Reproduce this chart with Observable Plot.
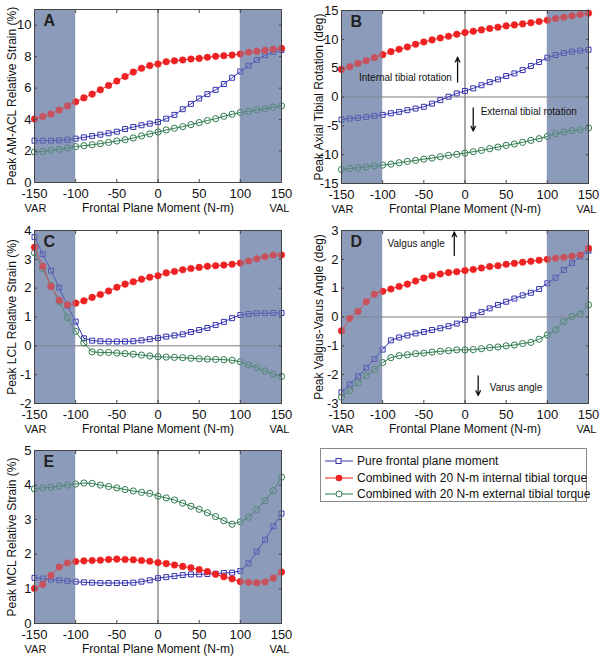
<!DOCTYPE html>
<html>
<head>
<meta charset="utf-8">
<script src="https://cdn.jsdelivr.net/npm/d3@7"></script>
<script src="https://cdn.jsdelivr.net/npm/@observablehq/plot@0.6"></script>
<style>
  html, body { margin: 0; padding: 0; background: #fff; }
  #wrap { position: relative; width: 603px; height: 664px; overflow: hidden; font-family: "Liberation Sans", Arial, sans-serif; }
  #wrap > .panel { position: absolute; }
  #legend { position: absolute; left: 320px; top: 448px; width: 267px; height: 54px; border: 1px solid #8a8a8a; box-sizing: border-box; background: #fff; }
  #legend .row { position: absolute; left: 0; height: 16px; display: flex; align-items: center; font-size: 12px; color: #111; white-space: nowrap; }
  #legend svg { margin-left: 4px; margin-right: 4px; }
</style>
</head>
<body>
<div id="wrap"></div>
<script>
// ---- data ----
const moment = [-150,-140,-130,-120,-110,-100,-90,-80,-70,-60,-50,-40,-30,-20,-10,0,10,20,30,40,50,60,70,80,90,100,110,120,130,140,150];
const xTicks = [-150,-100,-50,0,50,100,150];
const shade = [{x1: -150, x2: -100}, {x1: 100, x2: 150}];
const seriesNames = ["Pure frontal plane moment", "Combined with 20 N-m internal tibial torque", "Combined with 20 N-m external tibial torque"];

// A: Peak AM-ACL relative strain (%)
const aPure = [2.66,2.66,2.66,2.68,2.72,2.79,2.87,2.96,3.04,3.13,3.23,3.40,3.53,3.64,3.74,3.85,4.06,4.30,4.66,5.00,5.34,5.62,5.89,6.26,6.66,7.06,7.43,7.79,8.09,8.30,8.43];
const aInt  = [4.04,4.19,4.36,4.60,4.87,5.13,5.38,5.62,5.89,6.17,6.45,6.74,7.02,7.26,7.43,7.53,7.68,7.74,7.79,7.85,7.89,7.96,8.02,8.06,8.10,8.17,8.28,8.34,8.40,8.47,8.53];
const aExt  = [1.94,1.98,2.04,2.11,2.19,2.28,2.34,2.40,2.47,2.55,2.64,2.72,2.83,2.96,3.09,3.21,3.34,3.45,3.55,3.68,3.81,3.94,4.06,4.21,4.34,4.45,4.53,4.62,4.68,4.79,4.87];
const aTicks = [0,2,4,6,8,10];

// B: Peak axial tibial rotation (deg)
const bPure = [-3.92,-3.74,-3.63,-3.45,-3.28,-3.10,-2.82,-2.58,-2.29,-2.00,-1.70,-1.15,-0.55,0.05,0.62,1.05,1.50,2.04,2.58,3.05,3.63,4.09,4.67,5.37,6.06,6.82,7.28,7.63,7.86,8.04,8.21];
const bInt  = [4.79,5.25,5.83,6.30,6.82,7.34,7.86,8.27,8.68,9.14,9.55,9.90,10.24,10.53,10.88,11.17,11.40,11.64,11.87,12.10,12.33,12.50,12.68,12.86,13.09,13.32,13.61,13.84,14.07,14.30,14.54];
const bExt  = [-12.57,-12.39,-12.28,-12.10,-11.93,-11.81,-11.64,-11.40,-11.17,-11.00,-10.77,-10.59,-10.36,-10.13,-9.95,-9.72,-9.49,-9.26,-8.97,-8.68,-8.39,-8.15,-7.86,-7.52,-7.23,-6.82,-6.36,-6.07,-5.83,-5.66,-5.37];
const bTicks = [-15,-10,-5,0,5,10,15];

// C: Peak LCL relative strain (%)
const cPure = [3.77,3.18,2.61,2.02,1.39,0.84,0.26,0.18,0.16,0.15,0.15,0.15,0.16,0.19,0.23,0.27,0.32,0.36,0.40,0.48,0.55,0.62,0.72,0.83,0.96,1.07,1.10,1.13,1.13,1.14,1.14];
const cInt  = [3.42,2.76,2.06,1.58,1.42,1.48,1.56,1.68,1.78,1.90,2.03,2.14,2.22,2.31,2.38,2.43,2.53,2.58,2.64,2.68,2.72,2.76,2.78,2.80,2.83,2.87,2.94,3.02,3.09,3.15,3.15];
const cExt  = [3.23,2.67,2.09,1.54,0.98,0.50,0.10,-0.21,-0.23,-0.23,-0.25,-0.27,-0.29,-0.32,-0.35,-0.38,-0.39,-0.40,-0.41,-0.43,-0.45,-0.46,-0.47,-0.48,-0.50,-0.55,-0.66,-0.76,-0.87,-0.98,-1.06];
const cTicks = [-2,-1,0,1,2,3,4];

// D: Peak valgus-varus angle (deg)
const dPure = [-2.61,-2.34,-2.06,-1.76,-1.46,-1.13,-0.81,-0.71,-0.64,-0.57,-0.52,-0.45,-0.39,-0.32,-0.23,-0.10,0.06,0.17,0.30,0.42,0.53,0.64,0.75,0.84,0.97,1.17,1.36,1.63,1.87,2.10,2.30];
const dInt  = [-0.48,-0.05,0.19,0.53,0.79,0.89,0.97,1.06,1.14,1.25,1.35,1.43,1.49,1.54,1.57,1.61,1.65,1.70,1.75,1.78,1.83,1.86,1.90,1.93,1.97,2.00,2.04,2.07,2.11,2.15,2.38];
const dExt  = [-2.78,-2.55,-2.28,-2.03,-1.82,-1.58,-1.41,-1.34,-1.31,-1.27,-1.25,-1.22,-1.19,-1.17,-1.14,-1.14,-1.13,-1.10,-1.06,-1.04,-1.00,-0.97,-0.92,-0.88,-0.77,-0.62,-0.45,-0.16,0.02,0.10,0.42];
const dTicks = [-3,-2,-1,0,1,2,3];

// E: Peak MCL relative strain (%)
const ePure = [1.32,1.30,1.27,1.25,1.23,1.21,1.19,1.18,1.17,1.17,1.17,1.17,1.18,1.21,1.25,1.31,1.34,1.37,1.40,1.42,1.42,1.43,1.44,1.46,1.47,1.52,1.74,2.08,2.42,2.81,3.18];
const eInt  = [1.01,1.13,1.39,1.63,1.75,1.79,1.81,1.82,1.83,1.85,1.86,1.85,1.84,1.82,1.80,1.76,1.73,1.69,1.65,1.61,1.56,1.50,1.42,1.35,1.29,1.21,1.19,1.18,1.20,1.31,1.49];
const eExt  = [3.89,3.92,3.94,3.97,4.00,4.03,4.06,4.05,4.00,3.96,3.92,3.87,3.83,3.79,3.76,3.68,3.63,3.57,3.48,3.39,3.30,3.20,3.09,2.97,2.87,2.94,3.07,3.29,3.55,3.84,4.23];
const eTicks = [0,1,2,3,4,5];

// ---- styles ----
const GREY = "#8c9cba";
const BLUE = "#3535b0";
const RED = "#ee2222";
const GREEN = "#2f7a4e";
const FONT = "'Liberation Sans', Arial, sans-serif";
const fmt = d => String(d);

const rows = arr => moment.map((m, i) => ({m, v: arr[i]}));

function panel({pure, internal, external, domain, ticks, ylabel, letter, zeroY, notesStart = [], notesEnd = [], arrows = [], width}) {
  const marginLeft = 34, plotW = 247;
  const marks = [
    Plot.rect(shade, {x1: "x1", x2: "x2", fill: GREY}),
    Plot.ruleX([0], {stroke: "#555", strokeWidth: 1}),
    zeroY ? Plot.ruleY([0], {stroke: "#7a7a7a", strokeWidth: 1}) : null,
    Plot.line(rows(pure), {x: "m", y: "v", stroke: BLUE, strokeWidth: 1}),
    Plot.dot(rows(pure), {x: "m", y: "v", symbol: "square", r: 2.8, stroke: BLUE, strokeWidth: 1, fill: "none"}),
    Plot.line(rows(external), {x: "m", y: "v", stroke: GREEN, strokeWidth: 1}),
    Plot.dot(rows(external), {x: "m", y: "v", symbol: "circle", r: 3.1, stroke: GREEN, strokeWidth: 1, fill: "none"}),
    Plot.line(rows(internal), {x: "m", y: "v", stroke: RED, strokeWidth: 1}),
    Plot.dot(rows(internal), {x: "m", y: "v", symbol: "circle", r: 3.3, fill: RED, stroke: RED, strokeWidth: 0.5}),
    Plot.rect(shade, {x1: "x1", x2: "x2", fill: GREY, fillOpacity: 0.4}),
    Plot.frame({stroke: "#444", strokeWidth: 1}),
    Plot.axisX({ticks: xTicks, tickSize: 0, tickPadding: 6, fontSize: 13, label: null, tickFormat: fmt}),
    Plot.axisY({ticks, tickSize: 0, tickPadding: 3, fontSize: 13, label: null, tickFormat: fmt}),
    Plot.axisX({ticks: xTicks, tickSize: -3, tickFormat: () => "", label: null, stroke: "#444"}),
    Plot.axisX({ticks: xTicks, anchor: "top", tickSize: -3, tickFormat: () => "", label: null, stroke: "#444"}),
    Plot.axisY({ticks, tickSize: -3, tickFormat: () => "", label: null, stroke: "#444"}),
    Plot.axisY({ticks, anchor: "right", tickSize: -3, tickFormat: () => "", label: null, stroke: "#444"}),
    Plot.text([ylabel], {frameAnchor: "left", textAnchor: "middle", dx: -22, rotate: -90, fontSize: 12, fill: "#111"}),
    Plot.text(["Frontal Plane Moment (N-m)"], {frameAnchor: "bottom", textAnchor: "middle", dy: 29, fontSize: 12, fill: "#111"}),
    Plot.text([{x: -150, t: "VAR"}], {x: "x", text: "t", frameAnchor: "bottom", textAnchor: "middle", dy: 29, dx: 1, fontSize: 11, fill: "#111"}),
    Plot.text([{x: 150, t: "VAL"}], {x: "x", text: "t", frameAnchor: "bottom", textAnchor: "middle", dy: 29, dx: -2, fontSize: 11, fill: "#111"}),
    Plot.text([letter], {frameAnchor: "top-left", dx: 9, dy: 5, fontSize: 16, fontWeight: "bold", fill: "#222", lineAnchor: "top"}),
    notesStart.length ? Plot.text(notesStart, {x: "x", y: "y", text: "t", textAnchor: "start", fontSize: 10, fill: "#111"}) : null,
    notesEnd.length ? Plot.text(notesEnd, {x: "x", y: "y", text: "t", textAnchor: "end", fontSize: 10, fill: "#111"}) : null,
    arrows.length ? Plot.arrow(arrows, {x1: "x", y1: "y1", x2: "x", y2: "y2", stroke: "#111", strokeWidth: 1.3, headLength: 6, headAngle: 50}) : null
  ];
  return Plot.plot({
    width, height: 220,
    marginLeft, marginRight: width - marginLeft - plotW, marginTop: 9, marginBottom: 38,
    style: {fontFamily: FONT, fontSize: "13px", background: "transparent", color: "#111", overflow: "visible"},
    x: {domain: [-150, 150]},
    y: {domain, ticks},
    marks
  });
}

const wrap = document.getElementById("wrap");
function place(node, left, top) {
  node.classList.add("panel");
  node.style.left = left + "px";
  node.style.top = top + "px";
  wrap.appendChild(node);
}

place(panel({pure: aPure, internal: aInt, external: aExt, domain: [0, 11], ticks: aTicks, ylabel: "Peak AM-ACL Relative Strain (%)", letter: "A", zeroY: false, width: 300}), 0, 0);
place(panel({pure: bPure, internal: bInt, external: bExt, domain: [-15, 15], ticks: bTicks, ylabel: "Peak Axial Tibial Rotation (deg)", letter: "B", zeroY: true, width: 296,
  notesEnd: [{x: -16, y: 3.3, t: "Internal tibial rotation"}],
  notesStart: [{x: 19, y: -2.6, t: "External tibial rotation"}],
  arrows: [{x: -9, y1: 2.6, y2: 6.9}, {x: 10, y1: -1.9, y2: -5.9}]}), 307, 1);
place(panel({pure: cPure, internal: cInt, external: cExt, domain: [-2, 4], ticks: cTicks, ylabel: "Peak LCL Relative Strain (%)", letter: "C", zeroY: true, width: 300}), 0, 221);
place(panel({pure: dPure, internal: dInt, external: dExt, domain: [-3, 3], ticks: dTicks, ylabel: "Peak Valgus-Varus Angle (deg)", letter: "D", zeroY: true, width: 296,
  notesStart: [{x: -94, y: 2.55, t: "Valgus angle"}, {x: 30, y: -2.44, t: "Varus angle"}],
  arrows: [{x: -13, y1: 2.13, y2: 2.95}, {x: 16, y1: -2.04, y2: -2.72}]}), 307, 221);
place(panel({pure: ePure, internal: eInt, external: eExt, domain: [0, 5], ticks: eTicks, ylabel: "Peak MCL Relative Strain (%)", letter: "E", zeroY: false, width: 300}), 0, 441);

// legend
const legend = document.createElement("div");
legend.id = "legend";
const legendDefs = [
  {name: seriesNames[0], color: BLUE, marker: `<rect x="11" y="5.5" width="5" height="5" fill="#fff" stroke="${BLUE}"/>`},
  {name: seriesNames[1], color: RED, marker: `<circle cx="14" cy="8" r="3.3" fill="${RED}"/>`},
  {name: seriesNames[2], color: GREEN, marker: `<circle cx="14" cy="8" r="3" fill="#fff" stroke="${GREEN}"/>`}
];
legendDefs.forEach((d, i) => {
  const row = document.createElement("div");
  row.className = "row";
  row.style.top = (4 + i * 16.5) + "px";
  row.innerHTML = `<svg width="28" height="16"><line x1="0" x2="28" y1="8" y2="8" stroke="${d.color}" stroke-width="1"/>${d.marker}</svg><span>${d.name}</span>`;
  legend.appendChild(row);
});
wrap.appendChild(legend);
</script>
</body>
</html>
